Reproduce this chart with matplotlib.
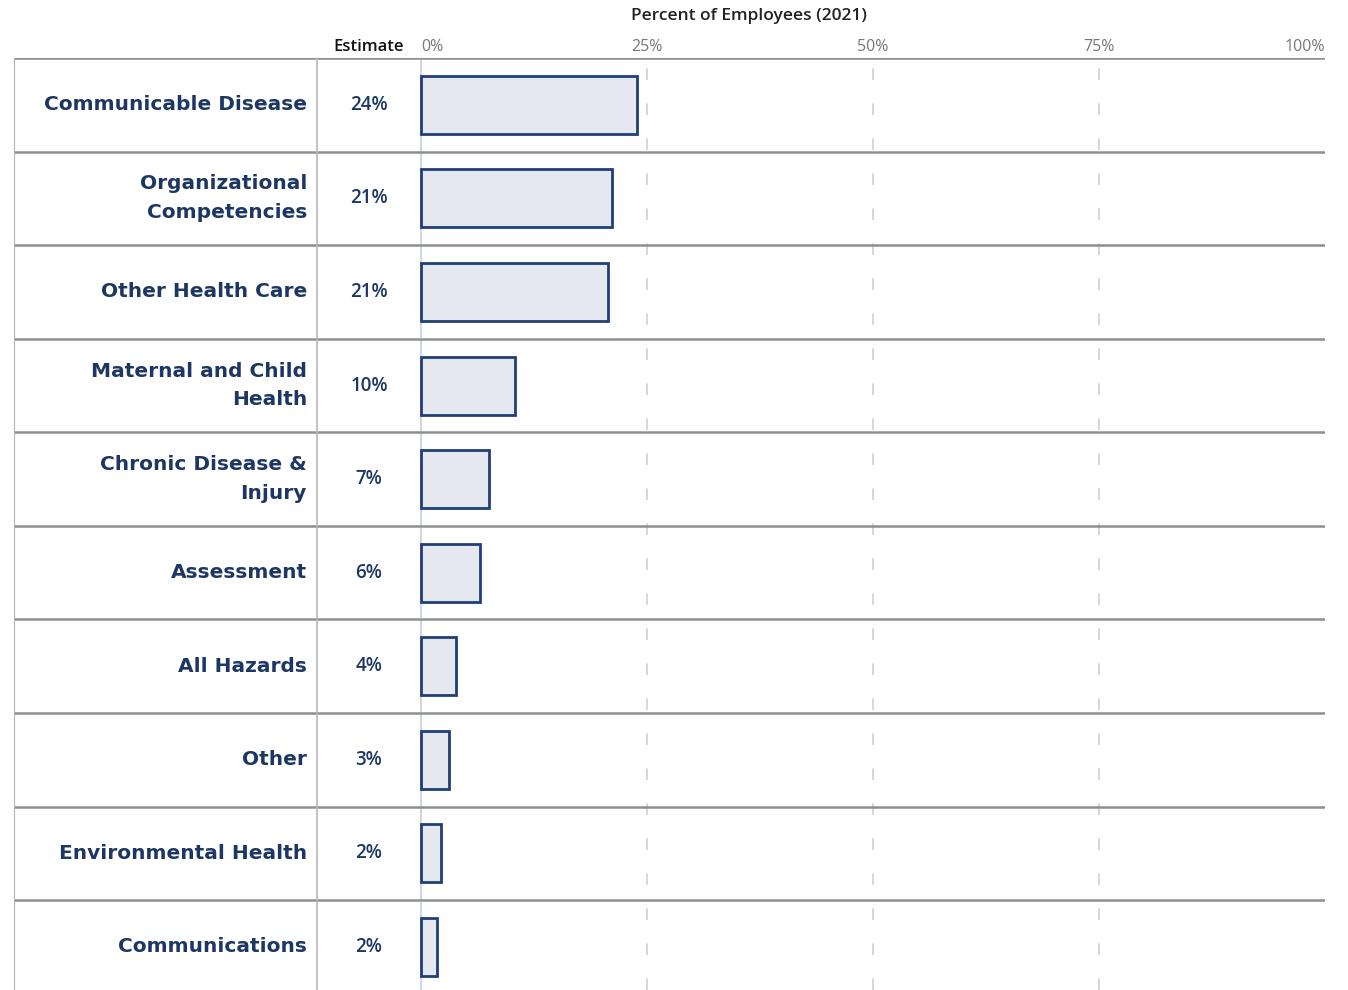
import matplotlib.pyplot as plt

# data
categories = [
    "Communicable Disease",
    "Organizational\nCompetencies",
    "Other Health Care",
    "Maternal and Child\nHealth",
    "Chronic Disease &\nInjury",
    "Assessment",
    "All Hazards",
    "Other",
    "Environmental Health",
    "Communications",
]
values = [23.9, 21.1, 20.7, 10.4, 7.5, 6.5, 3.9, 3.1, 2.2, 1.8]
estimates = ["24%", "21%", "21%", "10%", "7%", "6%", "4%", "3%", "2%", "2%"]
ticks = [0, 25, 50, 75, 100]
tick_labels = ["0%", "25%", "50%", "75%", "100%"]

navy = "#1d3764"
bar_edge = "#203f78"
bar_fill = "#e5e9ef"
row_line = "#8f8f8f"

W, H = 1348, 990
fig = plt.figure(figsize=(W / 100, H / 100), dpi=100)
ax = fig.add_axes([14 / W, 0, (1325 - 14) / W, (990 - 58) / H])

x_min = (14 - 421) / 9.04
ax.set_xlim(x_min, 100)
ax.set_ylim(9.96, 0)
for s in ax.spines.values():
    s.set_visible(False)

y_pos = [i + 0.5 for i in range(len(categories))]

# grid lines
ax.axvline(0, color="#c9d3e3", lw=1.3, zorder=1)
for t in ticks[1:4]:
    ax.axvline(t, color="#d0d0d0", lw=1.2, dashes=(7, 14), zorder=1)

# bars
ax.barh(y_pos, values, height=0.62, color=bar_fill, edgecolor=bar_edge,
        linewidth=2.0, zorder=3)

# table lines
for i in range(len(categories)):
    ax.axhline(i, color=row_line, lw=1.8, zorder=2)
ax.axvline(x_min, color="#b0b0b0", lw=1.5, zorder=2)
ax.axvline((317 - 421) / 9.04, color="#b8b8b8", lw=1.2, zorder=2)

label_x = (307 - 421) / 9.04
est_x = (369 - 421) / 9.04
for y, cat, est in zip(y_pos, categories, estimates):
    ax.text(label_x, y, cat, ha="right", va="center", fontsize=14.5,
            fontweight="bold", color=navy, linespacing=1.65,
            family="DejaVu Sans")
    ax.text(est_x, y, est, ha="center", va="center", fontsize=13.5,
            color=navy, family="Open Sans", fontweight="semibold")

# top axis
ax.xaxis.tick_top()
ax.set_xticks(ticks)
ax.set_xticklabels(tick_labels, fontsize=11.5, color="#777777",
                   family="Open Sans")
ax.tick_params(axis="x", length=0, pad=2)
ax.set_yticks([])
labels = ax.get_xticklabels()
labels[0].set_ha("left")
labels[-1].set_ha("right")

ax.annotate("Estimate", xy=((333 - 421) / 9.04, 1.0),
            xycoords=ax.get_xaxis_transform(), xytext=(0, 2),
            textcoords="offset points", ha="left", va="bottom", fontsize=12,
            color="#111111", family="Open Sans", fontweight="semibold")
fig.text(749 / W, 1 - 16 / H, "Percent of Employees (2021)", ha="center",
         va="center", fontsize=12.5, color="#222222", family="Open Sans",
         fontweight="semibold")

fig.savefig("out.png", dpi=100)
